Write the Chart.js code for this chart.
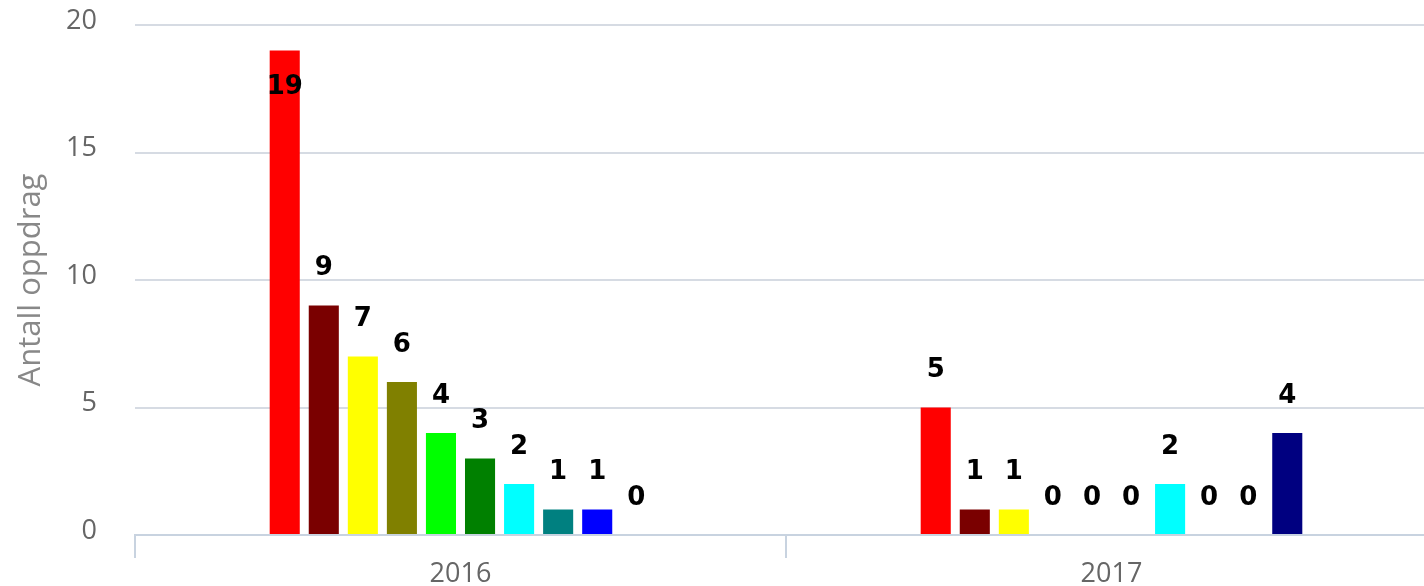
<!DOCTYPE html>
<html>
<head>
<meta charset="utf-8">
<script src="https://cdn.jsdelivr.net/npm/chart.js@4"></script>
<style>
    html, body { margin: 0; padding: 0; background: #ffffff; overflow: hidden; }
    #wrap { position: relative; width: 1440px; height: 586px; }
</style>
</head>
<body>
<div id="wrap"><canvas id="oppdragChart"></canvas></div>
<script>
// --- Data ---
const categories = ['2016', '2017'];
const seriesNames = ['Serie 1', 'Serie 2', 'Serie 3', 'Serie 4', 'Serie 5',
                     'Serie 6', 'Serie 7', 'Serie 8', 'Serie 9', 'Serie 10'];
const counts2016 = [19, 9, 7, 6, 4, 3, 2, 1, 1, 0];
const counts2017 = [5, 1, 1, 0, 0, 0, 2, 0, 0, 4];
const yTicks = [0, 5, 10, 15, 20];

// colours per series (styling, not data)
const seriesColors = ['#ff0000', '#7a0000', '#ffff00', '#808000', '#00ff00',
                      '#008000', '#00ffff', '#008080', '#0000ff', '#000080'];

// --- Value labels over each bar (pushed inside when there is no room above) ---
const barValueLabels = {
    id: 'barValueLabels',
    afterDatasetsDraw(chart) {
        const { ctx, chartArea } = chart;
        ctx.save();
        ctx.font = 'bold 26px "DejaVu Sans", sans-serif';
        ctx.fillStyle = '#000000';
        ctx.textAlign = 'center';
        ctx.textBaseline = 'middle';
        chart.data.datasets.forEach((ds, i) => {
            chart.getDatasetMeta(i).data.forEach((bar, j) => {
                let y = bar.y - 37;
                if (y - 14 < chartArea.top) y = bar.y + 37;
                ctx.fillText(String(ds.data[j]), bar.x, y);
            });
        });
        ctx.restore();
    }
};

const datasets = seriesNames.map((name, i) => ({
    label: name,
    data: [counts2016[i], counts2017[i]],
    backgroundColor: seriesColors[i],
    borderWidth: 0,
    categoryPercentage: 0.6,
    barPercentage: 0.77
}));

const ctx = document.getElementById('oppdragChart').getContext('2d');
new Chart(ctx, {
    type: 'bar',
    data: { labels: categories, datasets: datasets },
    options: {
        responsive: true,
        maintainAspectRatio: false,
        animation: false,
        layout: { padding: { top: 25, right: 3, left: 0, bottom: 0 } },
        plugins: {
            legend: { display: false },
            tooltip: { enabled: false }
        },
        scales: {
            x: {
                afterFit(scale) { scale.height = 51; },
                grid: {
                    drawOnChartArea: false,
                    drawTicks: true,
                    tickLength: 23,
                    color: '#c8d3e0',
                    lineWidth: 2
                },
                border: { display: true, color: '#c8d3e0', width: 2 },
                ticks: {
                    color: '#666666',
                    padding: 0,
                    font: { family: '"Open Sans", sans-serif', size: 27 }
                }
            },
            y: {
                min: 0,
                max: 20,
                afterFit(scale) {
                    scale.width = 135;
                    scale.paddingTop = 0;
                    scale.paddingBottom = 0;
                },
                afterBuildTicks(scale) { scale.ticks = yTicks.map(v => ({ value: v })); },
                grid: { color: '#d6dbe3', lineWidth: 2, drawTicks: false },
                border: { display: false },
                ticks: {
                    color: '#666666',
                    padding: 38,
                    labelOffset: -4,
                    font: { family: '"Open Sans", sans-serif', size: 27 }
                },
                title: {
                    display: true,
                    text: 'Antall oppdrag',
                    color: '#888888',
                    padding: { top: 13, bottom: 0 },
                    font: { family: '"Open Sans", sans-serif', size: 31 }
                }
            }
        }
    },
    plugins: [barValueLabels]
});
</script>
</body>
</html>
